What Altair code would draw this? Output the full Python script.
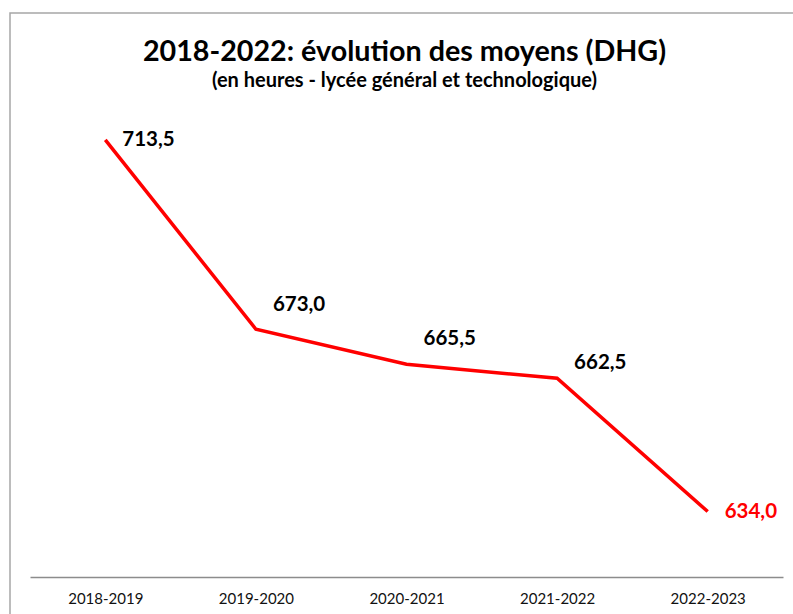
import altair as alt
import pandas as pd

years = ["2018-2019", "2019-2020", "2020-2021", "2021-2022", "2022-2023"]
hours = [713.5, 673.0, 665.5, 662.5, 634.0]
labels = ["713,5", "673,0", "665,5", "662,5", "634,0"]

df = pd.DataFrame({"year": years, "hours": hours, "label": labels})

W, H = 753, 467.5
FONT = "Lato"

x_enc = alt.X("year:N", sort=years,
              scale=alt.Scale(type="point", padding=0.5),
              axis=alt.Axis(title=None, labelAngle=0, ticks=False,
                            domainColor="#8c8c8c", domainWidth=1.3,
                            labelFont=FONT, labelFontSize=15, labelColor="#111",
                            labelPadding=14))
y_enc = alt.Y("hours:Q", scale=alt.Scale(domain=[620, 720], nice=False, zero=False),
              axis=None)

base = alt.Chart(df)

line = base.mark_line(color="#ff0000", strokeWidth=3.5, strokeJoin="miter").encode(x=x_enc, y=y_enc)

label_dy = [0, -24, -25, -15, 0]
label_color = ["#000", "#000", "#000", "#000", "#ff0000"]
text_layers = []
for yr, dy, col in zip(years, label_dy, label_color):
    text_layers.append(
        base.transform_filter(alt.datum.year == yr)
        .mark_text(align="left", baseline="middle", dx=17, dy=dy,
                   font=FONT, fontSize=20.5, fontWeight="bold", color=col)
        .encode(x=alt.X("year:N", sort=years), y="hours:Q", text="label:N")
    )

frame = alt.Chart(pd.DataFrame({"a": [0]})).mark_rect(
    fill=None, fillOpacity=0, stroke="#a6a6a6", strokeWidth=1.5
).encode(x=alt.value(-20), x2=alt.value(W + 60), y=alt.value(-96.5), y2=alt.value(H + 80))

chart = alt.layer(frame, line, *text_layers).properties(
    width=W, height=H,
    background="white",
    title=alt.TitleParams(
        text="2018-2022:  évolution des moyens (DHG)",
        subtitle="(en heures - lycée général et technologique)",
        font=FONT, fontSize=28.7, fontWeight="bold", color="#000",
        subtitleFont=FONT, subtitleFontSize=20, subtitleFontWeight="bold", subtitleColor="#000",
        anchor="middle", offset=-79, subtitlePadding=5, dx=-2,
    ),
    autosize=alt.AutoSizeParams(type="none"),
    padding={"left": 30, "top": 109.5, "right": 10, "bottom": 37},
).configure_view(stroke=None, strokeWidth=0)

chart.save("out.html", embed_options={"renderer": "svg", "actions": False})
